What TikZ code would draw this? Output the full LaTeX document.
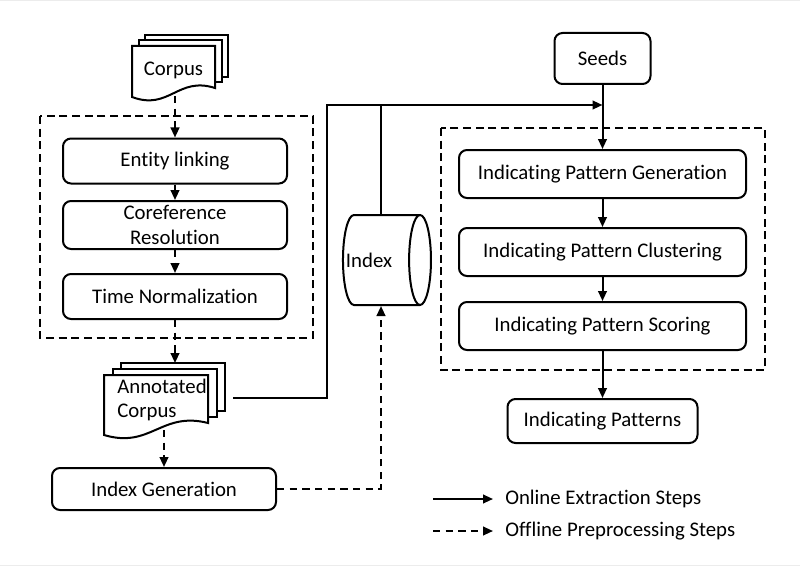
\documentclass[tikz,border=0pt]{standalone}
\usepackage{fontspec}
\setmainfont{Carlito}[Ligatures=NoCommon]
\usetikzlibrary{arrows.meta,shapes.geometric,calc}
% #1 L, #2 T, #3 R, #4 bottom-left y, #5 bottom-right y, #6 dx, #7 dy
\newcommand\mydocstack[7]{%
  \foreach \k in {2,1}{%
    \filldraw[docline, fill=white] ({#1+\k*#6},{#2-\k*#7}) rectangle ({#3+\k*#6},{#5-\k*#7});
  }
  \filldraw[docline, fill=white] (#1,#4) -- (#1,#2) -- (#3,#2) -- (#3,#5)
     .. controls ({#1+0.55*(#3-#1)},{#5-12}) and ({#1+0.45*(#3-#1)},{#4+14}) .. cycle;
}
\begin{document}
\begin{tikzpicture}[x=0.75pt,y=-0.75pt,
  font=\fontsize{15.6pt}{18.5pt}\selectfont,
  box/.style={draw, line width=1.5pt, rounded corners=6pt, inner sep=0pt, align=center},
  flow/.style={line width=1.5pt, -{Triangle[length=7.5pt,width=6.5pt]}},
  offflow/.style={flow, dash pattern=on 5.5pt off 4pt},
  plain/.style={line width=1.5pt},
  group/.style={line width=1.5pt, dash pattern=on 6pt off 3.5pt},
  docline/.style={line width=1.5pt, line join=miter},
  db/.style={draw, cylinder, shape aspect=1.5, line width=1.5pt, minimum width=67.5pt, minimum height=66pt, inner sep=0pt}]
\useasboundingbox (0,0) rectangle (800,567);
\draw[gray!15, line width=0.75pt] (0,1) -- (800,1);
\draw[gray!15, line width=0.75pt] (0,565) -- (800,565);

% groups
\draw[group] (40,116) rectangle (313,338);
\draw[group] (441,128) rectangle (765,370);

% documents
\mydocstack{132}{46}{215}{97}{88}{6.5}{5.5}
\node[inner sep=0pt] (corpus) at (173.5,70) {Corpus};
\coordinate (corpus-bot) at (173.5,96);
\mydocstack{104}{375}{208}{435}{423}{8.5}{6}
\node[align=left, inner sep=0pt] (acorpus) at (162,400) {Annotated\\Corpus};
\coordinate (acorpus-top) at (173,363);
\coordinate (acorpus-bot) at (164,430);
\coordinate (acorpus-out) at (233,398);

% boxes
\node[box, minimum width=72pt, minimum height=38.25pt] (seeds) at (602.5,58.5) {Seeds};
\node[box, minimum width=168pt, minimum height=33.75pt] (ent) at (175,161) {Entity linking};
\node[box, minimum width=168pt, minimum height=36pt] (coref) at (175,225) {Coreference\\Resolution};
\node[box, minimum width=168pt, minimum height=33.75pt] (time) at (175,296.5) {Time Normalization};
\node[box, minimum width=215.25pt, minimum height=36pt] (ipg) at (602.5,174) {Indicating Pattern Generation};
\node[box, minimum width=215.25pt, minimum height=36pt] (ipc) at (602.5,252) {Indicating Pattern Clustering};
\node[box, minimum width=215.25pt, minimum height=36pt] (ips) at (602.5,326) {Indicating Pattern Scoring};
\node[box, minimum width=142.5pt, minimum height=33pt] (ip) at (602.5,421) {Indicating Patterns};
\node[box, minimum width=168pt, minimum height=31.5pt] (igen) at (164,489) {Index Generation};
\node[db] (index) at (381,260) {\hspace*{-18pt}Index};

% connectors
\draw[offflow] (corpus-bot -| ent.north) -- (ent.north);
\draw[flow] (ent) -- (coref);
\draw[offflow] (coref) -- (time);
\draw[offflow] (time.south) -- (time.south |- acorpus-top);
\draw[offflow] (acorpus-bot -| igen.north) -- (igen.north);
\draw[offflow] (igen.east) -| (index.south);
\coordinate (topbend) at (327,105);
\draw[flow] (acorpus-out) -| (topbend) -- (topbend -| seeds.south);
\draw[plain] (index.north) -- (index.north |- topbend);
\draw[flow] (seeds) -- (ipg);
\draw[flow] (ipg) -- (ipc);
\draw[flow] (ipc) -- (ips);
\draw[flow] (ips) -- (ip);

% legend
\coordinate (l1a) at (433,499);
\coordinate (l1b) at (493,499);
\coordinate (l2a) at (433,531);
\coordinate (l2b) at (493,531);
\draw[flow] (l1a) -- (l1b);
\draw[offflow] (l2a) -- (l2b);
\node[anchor=west, inner sep=0pt] (l1t) at (505,499) {Online Extraction Steps};
\node[anchor=west, inner sep=0pt] (l2t) at (505,531) {Offline Preprocessing Steps};
\end{tikzpicture}
\end{document}
